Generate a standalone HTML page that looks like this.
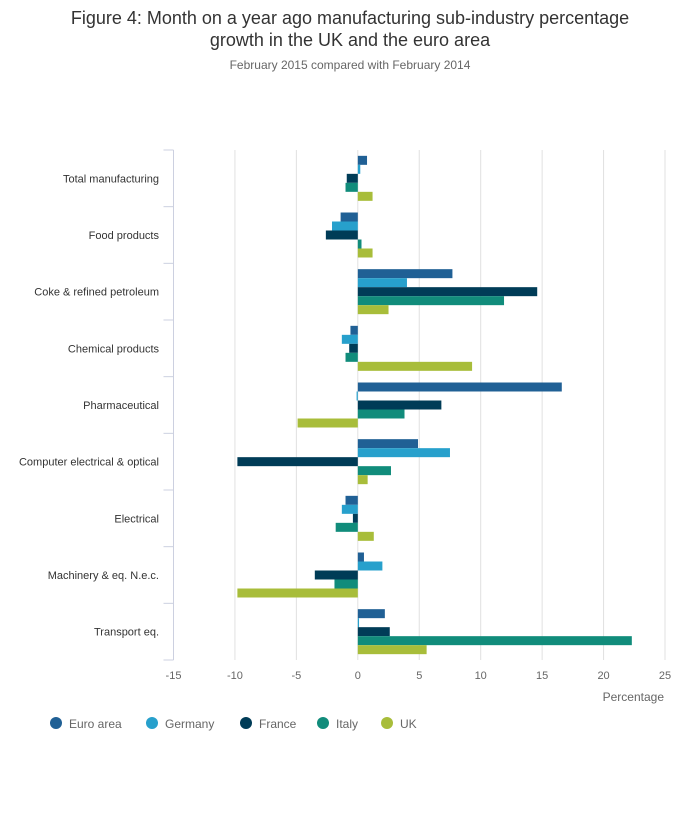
<!DOCTYPE html>
<html><head><meta charset="utf-8"><style>
body{margin:0;background:#fff;font-family:"Liberation Sans",sans-serif;}
svg text{font-family:"Liberation Sans",sans-serif;}
</style></head><body>
<svg width="700" height="810" viewBox="0 0 700 810" xmlns="http://www.w3.org/2000/svg">
<text x="350" y="24" text-anchor="middle" font-size="18" fill="#333">Figure 4: Month on a year ago manufacturing sub-industry percentage</text>
<text x="350" y="46" text-anchor="middle" font-size="18" fill="#333">growth in the UK and the euro area</text>
<text x="350" y="69" text-anchor="middle" font-size="12" fill="#666">February 2015 compared with February 2014</text>
<g id="grid"></g><g id="bars"></g><g id="axes"></g><g id="legend"></g>
</svg>
<script>
const categories=["Total manufacturing","Food products","Coke & refined petroleum","Chemical products","Pharmaceutical","Computer electrical & optical","Electrical","Machinery & eq. N.e.c.","Transport eq."];
const seriesNames=["Euro area","Germany","France","Italy","UK"];
const euroArea=[0.75,-1.4,7.7,-0.6,16.6,4.9,-1.0,0.5,2.2];
const germany=[0.2,-2.1,4.0,-1.3,-0.1,7.5,-1.3,2.0,0.1];
const france=[-0.9,-2.6,14.6,-0.7,6.8,-9.8,-0.4,-3.5,2.6];
const italy=[-1.0,0.3,11.9,-1.0,3.8,2.7,-1.8,-1.9,22.3];
const uk=[1.2,1.2,2.5,9.3,-4.9,0.8,1.3,-9.8,5.6];
const xTicks=[-15,-10,-5,0,5,10,15,20,25];
const colors=["#206095","#27a0cc","#003c57","#118c7b","#a8bd3a"];
const series=[euroArea,germany,france,italy,uk];
const NS="http://www.w3.org/2000/svg";
const plotTop=150,plotBottom=660,plotLeft=173.5,plotRight=665;
const xs=v=>plotLeft+(v+15)*(plotRight-plotLeft)/40;
const band=(plotBottom-plotTop)/categories.length;
const bh=9;
function mk(tag,attrs,parent){const e=document.createElementNS(NS,tag);for(const k in attrs)e.setAttribute(k,attrs[k]);document.getElementById(parent).appendChild(e);return e;}
xTicks.forEach(t=>{
 if(t>-15){const g=mk('line',{x1:xs(t),x2:xs(t),y1:plotTop,y2:plotBottom,stroke:'#e0e0e0','stroke-width':1},'grid');
 
 }
 const tx=mk('text',{x:xs(t),y:plotBottom+19,'text-anchor':'middle','font-size':11,fill:'#666'},'axes');
 tx.textContent=t;
 
 
});
const ax=mk('line',{x1:plotLeft,x2:plotLeft,y1:plotTop,y2:plotBottom,stroke:'#ccd0e0','stroke-width':1},'axes');


for(let i=0;i<=categories.length;i++){
 const tk=mk('line',{x1:plotLeft-10,x2:plotLeft,y1:plotTop+i*band,y2:plotTop+i*band,stroke:'#ccd0e0'},'axes');
 
 
}
categories.forEach((c,i)=>{
 const tx=mk('text',{x:159,y:plotTop+i*band+band/2+4,'text-anchor':'end','font-size':11,fill:'#333'},'axes');
 tx.textContent=c;
 
 
 const off=(band-bh*5)/2;
 series.forEach((s,j)=>{
  const v=s[i];
  const r=mk('rect',{x:Math.min(xs(0),xs(v)),y:plotTop+i*band+off+j*bh,width:Math.abs(xs(v)-xs(0)),height:bh,fill:colors[j]},'bars');
  
  
 });
});
const xt=mk('text',{x:664,y:701,'text-anchor':'end','font-size':12,fill:'#666'},'axes');
xt.textContent='Percentage';


const lx=[56,152,246,323,387];
seriesNames.forEach((n,j)=>{
 const c=mk('circle',{cx:lx[j],cy:723,r:6,fill:colors[j]},'legend');
 
 
 const t=mk('text',{x:lx[j]+13,y:728,'font-size':12,fill:'#666'},'legend');
 t.textContent=n;
 
 
});
</script>
</body></html>
